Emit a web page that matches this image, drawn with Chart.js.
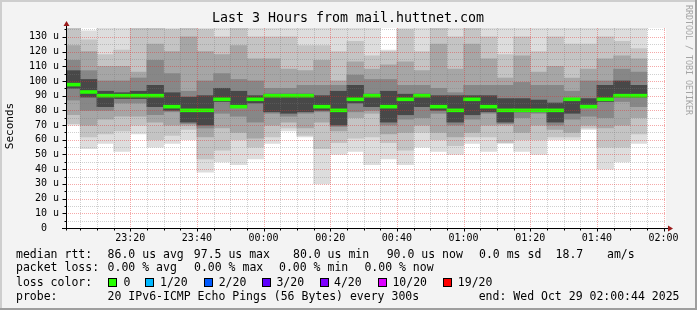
<!DOCTYPE html>
<html>
<head>
<meta charset="utf-8">
<script src="https://cdn.jsdelivr.net/npm/chart.js@4.4.1/dist/chart.umd.min.js"></script>
<style>
  html, body { margin: 0; padding: 0; background: #f3f3f3; }
  #wrap { width: 697px; height: 310px; }
</style>
</head>
<body>
<div id="wrap"><canvas id="smoke" width="697" height="310"></canvas></div>
<script>
// minutes after 23:00, centre of each 5 minute slot
const slotMid = [2.5, 7.5, 12.5, 17.5, 22.5, 27.5, 32.5, 37.5, 42.5, 47.5, 52.5, 57.5, 62.5, 67.5, 72.5, 77.5, 82.5, 87.5,
  92.5, 97.5, 102.5, 107.5, 112.5, 117.5, 122.5, 127.5, 132.5, 137.5, 142.5, 147.5, 152.5, 157.5, 162.5, 167.5, 172.5];

// smoke bands (us), outer = lightest
const lo1 = [70, 54, 57.5, 52, 64, 55, 57.5, 60, 38, 45, 43, 47, 57.5, 66, 62, 30, 50, 52, 43, 47, 43, 55, 52, 50, 57.5, 52, 57.5, 52, 50, 60, 60, 67, 40, 45, 57.5];
const lo2 = [71, 62, 64, 66, 70, 60, 63, 67, 47, 53, 60, 55, 62, 68, 63, 54, 58, 61, 62, 58, 53, 65, 60, 56, 62, 62, 58, 60, 60, 62, 62, 68, 55, 55, 64];
const lo3 = [77, 70, 74, 76, 76, 72, 70, 70, 62, 68, 65, 61, 70, 72, 68, 72, 66, 75, 78, 64, 65, 70, 65, 62, 65, 70, 70, 65, 70, 67, 65, 70, 68, 70, 75];
const lo4 = [87, 80, 80, 85, 85, 77, 79, 71, 68, 78, 76, 72, 78, 76, 78, 79, 69, 79, 80, 70, 74, 75, 78, 70, 74, 78, 71, 75, 78, 70, 74, 76, 75, 86, 82.5];
const lo5 = [95, 89, 82.5, 88, 88, 82.5, 80, 72, 70, 86, 82, 85, 79, 78, 79, 80, 70, 85, 82.5, 72, 77, 82.5, 80, 72, 77, 79, 72, 79, 79, 72, 78, 84, 86, 89, 89];
const median = [97.5, 92.5, 90, 90, 90, 90, 82.5, 80, 80, 87.5, 82.5, 87.5, 90, 90, 90, 82.5, 80, 87.5, 90, 82.5, 87.5, 90, 82.5, 80, 87.5, 82.5, 80, 80, 80, 80, 87.5, 82.5, 87.5, 90, 90];
const hi5 = [107, 101, 93, 92, 93, 97, 92, 89, 90, 95, 93, 90, 91, 91, 91, 90, 93, 97, 91, 93, 91, 91, 90, 90, 90, 90, 88, 88, 87, 85, 88, 88, 97, 100, 97];
const hi4 = [114, 107, 100, 100, 102, 114, 105, 93, 100, 105, 101, 100, 95, 95, 97, 97, 97, 104, 101, 101, 97, 97, 95, 92, 97, 97, 97, 99, 97, 97, 93, 100, 100, 108, 106];
const hi3 = [124, 120, 110, 110, 106, 125, 120, 130, 120, 118, 124, 115, 115, 108, 107, 114, 100, 113, 108, 111, 113, 107, 125, 108, 125, 115, 102, 117, 106, 110, 102, 108, 115, 117, 115];
const hi2 = [140, 128, 118, 121, 138, 136, 135, 136, 135, 130, 136, 130, 130, 130, 124, 124, 120, 127, 117, 120, 135, 120, 136, 130, 136, 130, 118, 130, 120, 130, 125, 125, 130, 127, 122];
const hi1 = [145, 134, 138, 140, 140, 140, 140, 140, 140, 137, 140, 140, 137, 137, 137, 137, 137, 137, 137, 121, 140, 137, 140, 137, 140, 137, 137, 137, 137, 137, 137, 137, 137, 137, 137];

const timeTicks = [20, 40, 60, 80, 100, 120, 140, 160, 180];
const timeLabels = ['23:20', '23:40', '00:00', '00:20', '00:40', '01:00', '01:20', '01:40', '02:00'];
const yTicks = [0, 10, 20, 30, 40, 50, 60, 70, 80, 90, 100, 110, 120, 130];

const title = 'Last 3 Hours from mail.huttnet.com';
const rttStats = ['86.0 us avg', '97.5 us max', '80.0 us min', '90.0 us now', '0.0 ms sd', '18.7', 'am/s'];
const lossStats = ['0.00 % avg', '0.00 % max', '0.00 % min', '0.00 % now'];
const lossLabels = ['0', '1/20', '2/20', '3/20', '4/20', '10/20', '19/20'];
const lossColors = ['#26ff00', '#00b8ff', '#0059ff', '#5e00ff', '#7e00ff', '#dd00ff', '#ff0000'];
const probeText = '20 IPv6-ICMP Echo Pings (56 Bytes) every 300s';
const endText = 'end: Wed Oct 29 02:00:44 2025';

const MONO = '"DejaVu Sans Mono", "Liberation Mono", monospace';
Chart.defaults.font.family = MONO;
Chart.defaults.color = '#000';

const layer = (lo, hi, color, order) => ({
  data: slotMid.map((x, i) => ({ x, y: [lo[i], hi[i]] })),
  backgroundColor: color,
  borderWidth: 0,
  grouped: false,
  barPercentage: 1,
  categoryPercentage: 1,
  order
});

const medianLine = {
  data: slotMid.map((x, i) => ({ x, y: [median[i] - 1, median[i] + 1] })),
  backgroundColor: lossColors[0],
  borderWidth: 0,
  grouped: false,
  barPercentage: 1,
  categoryPercentage: 1,
  order: 1
};

const framePlugin = {
  id: 'frame',
  beforeDraw(chart) {
    const { ctx, width, height, chartArea: a } = chart;
    ctx.save();
    ctx.fillStyle = '#f3f3f3';
    ctx.fillRect(0, 0, width, height);
    ctx.fillStyle = '#cecece';
    ctx.fillRect(0, 0, width, 2);
    ctx.fillRect(0, 0, 2, height);
    ctx.fillStyle = '#9e9e9e';
    ctx.fillRect(0, height - 2, width, 2);
    ctx.fillRect(width - 2, 0, 2, height);
    ctx.fillStyle = '#ffffff';
    ctx.fillRect(a.left, a.top, a.right - a.left, a.bottom - a.top);
    ctx.restore();
  }
};

const gridPlugin = {
  id: 'rrdgrid',
  afterDatasetsDraw(chart) {
    const { ctx, chartArea: a, scales: { x, y } } = chart;
    const vline = (px) => { ctx.beginPath(); ctx.moveTo(px, a.top); ctx.lineTo(px, a.bottom); ctx.stroke(); };
    const hline = (py) => { ctx.beginPath(); ctx.moveTo(a.left, py); ctx.lineTo(a.right, py); ctx.stroke(); };
    ctx.save();
    ctx.lineWidth = 1;
    ctx.setLineDash([1, 1]);
    // minor grid every 5 min / 5 us
    ctx.strokeStyle = 'rgba(120,120,120,0.35)';
    for (let m = 5; m <= 180; m += 5) if (m % 20) vline(Math.round(x.getPixelForValue(m)) + 0.5);
    for (let v = 5; v <= 135; v += 5) if (v % 10) hline(Math.round(y.getPixelForValue(v)) + 0.5);
    // major grid
    ctx.strokeStyle = 'rgba(230,40,40,0.4)';
    timeTicks.forEach(m => vline(Math.round(x.getPixelForValue(m)) + 0.5));
    yTicks.forEach(v => { if (v) hline(Math.round(y.getPixelForValue(v)) + 0.5); });
    ctx.setLineDash([]);

    // axes
    const x0 = Math.round(a.left) + 0.5;
    const y0 = Math.round(y.getPixelForValue(0)) + 0.5;
    ctx.strokeStyle = '#000';
    ctx.beginPath();
    ctx.moveTo(a.left - 4, y0); ctx.lineTo(a.right + 3, y0);
    ctx.moveTo(x0, y0 + 2); ctx.lineTo(x0, a.top - 3);
    for (let v = 5; v <= 135; v += 5) {
      const py = Math.round(y.getPixelForValue(v)) + 0.5;
      ctx.moveTo(x0 - (v % 10 ? 2 : 4), py); ctx.lineTo(x0, py);
    }
    for (let m = 5; m <= 180; m += 5) {
      const px = Math.round(x.getPixelForValue(m)) + 0.5;
      ctx.moveTo(px, y0); ctx.lineTo(px, y0 + (m % 20 ? 2 : 3));
    }
    ctx.stroke();

    // arrow heads
    ctx.fillStyle = '#9a1b1b';
    ctx.beginPath();
    ctx.moveTo(x0 - 3, a.top - 2); ctx.lineTo(x0 + 3, a.top - 2); ctx.lineTo(x0, a.top - 7); ctx.closePath();
    ctx.fill();
    ctx.beginPath();
    ctx.moveTo(a.right + 2, y0 - 3); ctx.lineTo(a.right + 2, y0 + 3); ctx.lineTo(a.right + 7, y0); ctx.closePath();
    ctx.fill();
    ctx.restore();
  }
};

const textPlugin = {
  id: 'rrdtext',
  afterDraw(chart) {
    const { ctx } = chart;
    ctx.save();
    ctx.fillStyle = '#000';
    ctx.textBaseline = 'middle';

    ctx.font = '13.3px ' + MONO;
    ctx.textAlign = 'center';
    ctx.fillText(title, 348, 19);

    ctx.save();
    ctx.font = '11px ' + MONO;
    ctx.translate(10, 126);
    ctx.rotate(-Math.PI / 2);
    ctx.fillText('Seconds', 0, 0);
    ctx.restore();

    ctx.save();
    ctx.font = '8.3px ' + MONO;
    ctx.fillStyle = '#a4a4a4';
    ctx.translate(688, 60);
    ctx.rotate(Math.PI / 2);
    ctx.fillText('RRDTOOL / TOBI OETIKER', 0, 0);
    ctx.restore();

    ctx.textAlign = 'left';
    ctx.font = '11.5px ' + MONO;
    ctx.fillText('median rtt:', 16, 255);
    [107.6, 193.8, 293, 386.7, 479, 555.6, 607].forEach((px, i) => ctx.fillText(rttStats[i], px, 255));

    ctx.fillText('packet loss:', 16, 268.5);
    [107.6, 194, 279, 364.4].forEach((px, i) => ctx.fillText(lossStats[i], px, 268.5));

    ctx.fillText('loss color:', 16, 282.7);
    const boxX = [108.4, 145.3, 204, 262, 320, 377.8, 442.7];
    const labX = [123.6, 160, 218.7, 276.4, 334, 392.4, 457.8];
    lossLabels.forEach((lab, i) => {
      ctx.fillStyle = lossColors[i];
      ctx.fillRect(Math.round(boxX[i]), 278, 8, 9);
      ctx.strokeStyle = '#000';
      ctx.lineWidth = 1;
      ctx.strokeRect(Math.round(boxX[i]) + 0.5, 278.5, 8, 8);
      ctx.fillStyle = '#000';
      ctx.fillText(lab, labX[i], 282.7);
    });

    ctx.fillText('probe:', 16, 296.7);
    ctx.fillText(probeText, 107.6, 296.7);
    ctx.fillText(endText, 478.7, 296.7);
    ctx.restore();
  }
};

new Chart(document.getElementById('smoke'), {
  type: 'bar',
  data: {
    datasets: [
      layer(lo1, hi1, '#dddddd', 6),
      layer(lo2, hi2, '#c4c4c4', 5),
      layer(lo3, hi3, '#a6a6a6', 4),
      layer(lo4, hi4, '#878787', 3),
      layer(lo5, hi5, '#484848', 2),
      medianLine
    ]
  },
  options: {
    responsive: false,
    animation: false,
    events: [],
    layout: { padding: { left: 0, top: 28, right: 31, bottom: 62 } },
    plugins: { legend: { display: false }, tooltip: { enabled: false } },
    scales: {
      x: {
        type: 'linear',
        min: 0.733,
        max: 180.733,
        offset: false,
        grid: { display: false, drawTicks: false },
        border: { display: false },
        afterBuildTicks: s => { s.ticks = timeTicks.map(v => ({ value: v })); },
        afterFit: s => { s.height = 20; },
        ticks: {
          autoSkip: false,
          maxRotation: 0,
          padding: 4,
          font: { size: 10 },
          color: '#000',
          callback: v => timeLabels[timeTicks.indexOf(v)]
        }
      },
      y: {
        min: 0,
        max: 136,
        grid: { display: false, drawTicks: false },
        border: { display: false },
        afterBuildTicks: s => { s.ticks = yTicks.map(v => ({ value: v })); },
        afterFit: s => { s.width = 66; },
        ticks: {
          padding: 7,
          font: { size: 10 },
          color: '#000',
          callback: v => (v === 0 ? '0  ' : v + ' u')
        }
      }
    }
  },
  plugins: [framePlugin, gridPlugin, textPlugin]
});
</script>
</body>
</html>
